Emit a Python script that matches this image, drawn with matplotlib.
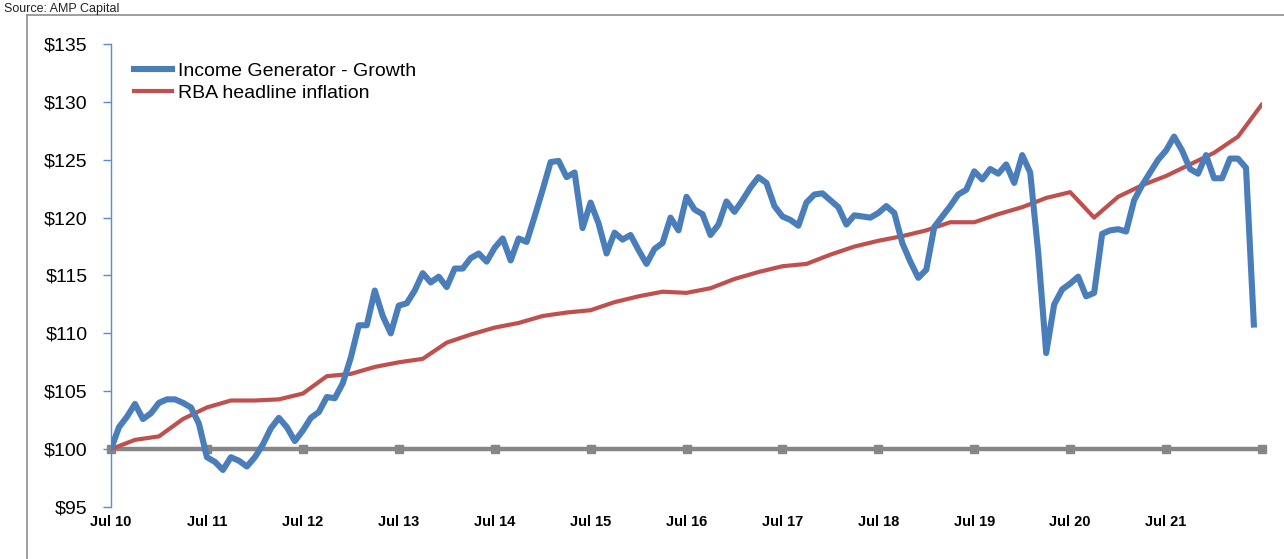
import matplotlib
matplotlib.use("Agg")
import matplotlib.pyplot as plt
from matplotlib.lines import Line2D
import numpy as np

# ---------------- data ----------------
# Income Generator - Growth, monthly from Jul 2010 (month 0)
growth = [
    100.0, 101.9, 102.8, 103.9, 102.6, 103.1, 104.0, 104.3, 104.3, 104.0,
    103.6, 102.2, 99.3, 98.9, 98.2, 99.3, 99.0, 98.5, 99.3, 100.4,
    101.8, 102.7, 101.9, 100.7, 101.6, 102.7, 103.2, 104.5, 104.4, 105.7,
    107.9, 110.7, 110.7, 113.7, 111.5, 110.0, 112.4, 112.6, 113.7, 115.2,
    114.4, 114.9, 114.0, 115.6, 115.6, 116.5, 116.9, 116.2, 117.4, 118.2,
    116.3, 118.2, 117.9, 120.1, 122.4, 124.8, 124.9, 123.5, 123.9, 119.1,
    121.3, 119.5, 116.9, 118.7, 118.1, 118.5, 117.2, 116.0, 117.3, 117.8,
    120.0, 118.9, 121.8, 120.7, 120.3, 118.5, 119.4, 121.4, 120.5, 121.5,
    122.6, 123.5, 123.0, 121.0, 120.1, 119.8, 119.3, 121.3, 122.0, 122.1,
    121.5, 120.9, 119.4, 120.2, 120.1, 120.0, 120.4, 121.0, 120.4, 117.8,
    116.2, 114.8, 115.5, 119.2, 120.1, 121.0, 122.0, 122.4, 124.0, 123.3,
    124.2, 123.8, 124.6, 123.0, 125.4, 123.9, 117.0, 108.3, 112.5, 113.8,
    114.3, 114.9, 113.2, 113.5, 118.6, 118.9, 119.0, 118.8, 121.5, 122.8,
    123.9, 125.0, 125.8, 127.0, 125.8, 124.2, 123.8, 125.4, 123.4, 123.4,
    125.1, 125.1, 124.3, 110.5,
]
growth_months = list(range(len(growth)))

# RBA headline inflation, quarterly from Jul 2010
inflation = [
    100.0, 100.8, 101.1, 102.6, 103.6, 104.2, 104.2, 104.3, 104.8, 106.3,
    106.5, 107.1, 107.5, 107.8, 109.2, 109.9, 110.5, 110.9, 111.5, 111.8,
    112.0, 112.7, 113.2, 113.6, 113.5, 113.9, 114.7, 115.3, 115.8, 116.0,
    116.8, 117.5, 118.0, 118.4, 118.9, 119.6, 119.6, 120.3, 120.9, 121.7,
    122.2, 120.0, 121.8, 122.8, 123.6, 124.6, 125.6, 127.0, 129.8,
]
inflation_months = [3 * i for i in range(len(inflation))]

# $100 starting-value reference line, one point per July
base_months = [12 * i for i in range(13)]
base_values = [100] * 13

tick_months = [12 * i for i in range(12)]
tick_labels = ["Jul 10", "Jul 11", "Jul 12", "Jul 13", "Jul 14", "Jul 15",
               "Jul 16", "Jul 17", "Jul 18", "Jul 19", "Jul 20", "Jul 21"]
y_ticks = [95, 100, 105, 110, 115, 120, 125, 130, 135]
y_labels = ["$%d" % v for v in y_ticks]

series_names = ["Income Generator - Growth", "RBA headline inflation"]
source_text = "Source: AMP Capital"

# ---------------- figure ----------------
W, H = 1284, 559
fig = plt.figure(figsize=(W / 100, H / 100), dpi=100)
fig.patch.set_facecolor("white")
plt.rcParams["font.family"] = ["Liberation Sans", "DejaVu Sans"]

ax = fig.add_axes([111 / W, 1 - 507 / H, (1262 - 111) / W, (507 - 44) / H])
ax.set_xlim(0, 144)
ax.set_ylim(95, 135)

blue = "#4A7EBB"
red = "#C0504D"
grey = "#868686"

ax.plot(base_months, base_values, color=grey, lw=3.2, marker="s", ms=6,
        mec=grey, mfc=grey, zorder=2, clip_on=False)
ax.plot(inflation_months, inflation, color=red, lw=3.0, zorder=3,
        solid_joinstyle="round", solid_capstyle="round")
ax.plot(growth_months, growth, color=blue, lw=4.4, zorder=4,
        solid_joinstyle="round", solid_capstyle="butt")

for s in ["top", "right", "bottom"]:
    ax.spines[s].set_visible(False)
ax.spines["left"].set_color("#5B8BD0")
ax.spines["left"].set_linewidth(1.0)

ax.set_yticks(y_ticks)
ax.set_yticklabels(y_labels, fontsize=14)
ax.tick_params(axis="y", direction="out", length=6, width=1.0,
               color="#5B8BD0", pad=11)
ax.set_xticks(tick_months)
ax.set_xticklabels(tick_labels, fontsize=10.5, fontweight="bold")
ax.tick_params(axis="x", length=0, pad=6)

handles = [Line2D([], [], color=blue, lw=4.4), Line2D([], [], color=red, lw=3.0)]
leg = ax.legend(handles, series_names, loc="upper left",
                bbox_to_anchor=(134 / W, 1 - 62 / H), bbox_transform=fig.transFigure,
                frameon=False, fontsize=14, handlelength=1.95, handletextpad=0.3,
                labelspacing=0.22, borderpad=0, borderaxespad=0)

# outer frame of the exhibit
fig.add_artist(Line2D([27 / W, 27 / W], [0, 1 - 15 / H], color="#8C8C8C", lw=1.2,
                      transform=fig.transFigure))
fig.add_artist(Line2D([27 / W, 1], [1 - 15 / H, 1 - 15 / H], color="#8C8C8C", lw=1.2,
                      transform=fig.transFigure))

# source line at the top-left corner
fig.text(4 / W, 1 - 12 / H, source_text, ha="left", va="baseline",
         fontsize=9, color="#222222")

fig.savefig("out.png", dpi=100, facecolor="white")
